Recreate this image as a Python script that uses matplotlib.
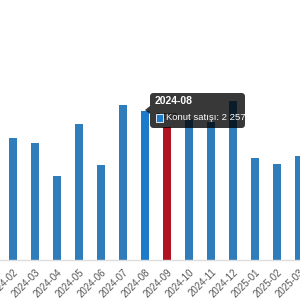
import numpy as np
import matplotlib.pyplot as plt
from matplotlib.patches import FancyBboxPatch, Polygon, Rectangle

plt.rcParams['font.family'] = ['Liberation Sans', 'DejaVu Sans']

months = ['2024-02', '2024-03', '2024-04', '2024-05', '2024-06', '2024-07',
          '2024-08', '2024-09', '2024-10', '2024-11', '2024-12', '2025-01',
          '2025-02', '2025-03']
sales = [1844, 1777, 1268, 2065, 1435, 2348, 2257, 2022, 2136, 2090, 2413,
         1545, 1454, 1575]
hover_month = '2024-08'
red_month = '2024-09'

W, H = 300, 300
fig = plt.figure(figsize=(3, 3), dpi=100)
ax = fig.add_axes([0, 40 / H, 1, 260 / H])

colors = []
for m in months:
    if m == red_month:
        colors.append('#b0121f')
    elif m == hover_month:
        colors.append('#1c7acb')
    else:
        colors.append('#2f7dbb')

x = np.arange(len(months))
ax.bar(x, sales, width=0.36, color=colors, zorder=2)
ax.set_xlim(-13 / 22, 287 / 22)
ax.set_ylim(0, 260 * 15.15)

for s in ['top', 'right', 'left']:
    ax.spines[s].set_visible(False)
ax.spines['bottom'].set_color('#dddddd')
ax.spines['bottom'].set_linewidth(1)
ax.set_yticks([])
ax.set_xticks(x)
ax.set_xticklabels(months, rotation=45, ha='right', rotation_mode='anchor',
                   fontsize=7, color='#555555')
ax.tick_params(axis='x', length=0, pad=5)
for lab in ax.get_xticklabels():
    lab.set_clip_on(False)

# value label on the red bar
i_red = months.index(red_month)
ax.annotate(f'{sales[i_red]:,}'.replace(',', ' '), (x[i_red], sales[i_red]),
            xytext=(0, 6.5), textcoords='offset points', ha='center',
            fontsize=6, color='#333333', zorder=3)


def fx(px):
    return px / W


def fy(py):
    return 1 - py / H


# tooltip
box = FancyBboxPatch((fx(150), fy(128)), fx(245) - fx(150), fy(93) - fy(128),
                     boxstyle='round,pad=0,rounding_size=0.012',
                     transform=fig.transFigure, facecolor='black', alpha=0.78,
                     edgecolor='none', zorder=10)
fig.patches.append(box)
caret = Polygon([(fx(145), fy(110)), (fx(150), fy(106)), (fx(150), fy(114))],
                closed=True, transform=fig.transFigure, facecolor='black',
                alpha=0.78, edgecolor='none', zorder=10)
fig.patches.append(caret)
sq = Rectangle((fx(156), fy(122)), fx(7), 8 / H, transform=fig.transFigure,
               facecolor='#1c7acb', edgecolor='white', linewidth=0.6, zorder=11)
fig.patches.append(sq)
i_h = months.index(hover_month)
fig.text(fx(155), fy(101.5), hover_month, color='white', fontsize=7.5,
         fontweight='bold', va='center', ha='left', zorder=12)
fig.text(fx(166), fy(118), 'Konut satışı: ' + f'{sales[i_h]:,}'.replace(',', ' '),
         color='white', fontsize=6.8, va='center', ha='left', zorder=12)

plt.savefig('out.png', dpi=100)
